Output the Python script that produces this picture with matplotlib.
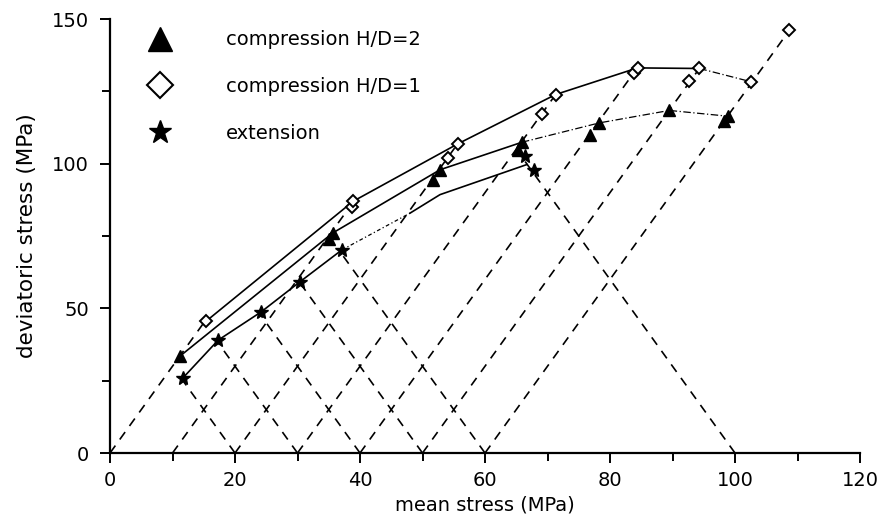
import numpy as np
import matplotlib.pyplot as plt
from matplotlib.lines import Line2D

# stress paths: start on the p axis, deviatoric stress where the path stops
comp_start = [0, 10, 20, 30, 40, 50, 60]
comp_qend = [46, 87, 107, 124, 133, 133, 146]
ext_start = [20, 30, 40, 50, 60, 100]
ext_qend = [26, 39, 49, 59, 70, 103]

# compression H/D=2
tri_p = [11.2, 35.0, 35.6, 51.7, 52.8, 65.3, 65.9, 76.8, 78.3, 89.5, 98.3, 98.9]
tri_q = [33.5, 74.0, 76.0, 94.5, 97.9, 104.8, 107.4, 110.0, 114.1, 118.4, 114.7, 116.4]
# compression H/D=1
dia_p = [15.4, 38.7, 38.9, 54.1, 55.6, 69.1, 71.3, 83.8, 84.4, 92.7, 94.3, 102.6, 108.7]
dia_q = [45.6, 85.0, 87.0, 102.0, 106.8, 117.2, 123.9, 131.4, 133.1, 128.5, 132.9, 128.3, 146.1]
# extension
star_p = [11.6, 17.3, 24.2, 30.4, 37.1, 66.4, 67.8]
star_q = [25.8, 39.0, 48.8, 59.2, 70.2, 102.5, 97.9]

# envelopes (solid part, then dash-dot part)
tri_env_p = [11.2, 35.6, 52.8, 65.9]
tri_env_q = [33.5, 76.0, 97.9, 107.4]
tri_env2_p = [65.9, 78.3, 89.5, 98.9]
tri_env2_q = [107.4, 114.1, 118.4, 116.4]
dia_env_p = [15.4, 38.9, 55.6, 71.3, 84.4, 94.3]
dia_env_q = [45.6, 87.0, 106.8, 123.9, 133.1, 132.9]
dia_env2_p = [94.3, 102.6]
dia_env2_q = [132.9, 128.3]
ext_env_p = [11.6, 17.3, 24.2, 30.4, 37.1]
ext_env_q = [25.8, 39.0, 48.8, 59.2, 70.2]
ext_env2_p = [37.1, 48.0]
ext_env2_q = [70.2, 82.9]
ext_env3_p = [48.0, 52.8, 66.7]
ext_env3_q = [82.9, 89.3, 99.7]

plt.rcParams['font.family'] = ['DejaVu Sans']
fig = plt.figure(figsize=(8.78, 5.25), dpi=100)
ax = fig.add_axes([0.1253, 0.1371, 0.8542, 0.8267])

dash = dict(color='black', lw=1.2, dashes=(5.5, 4.5))
for p0, qe in zip(comp_start, comp_qend):
    q = np.array([0, qe])
    ax.plot(p0 + q / 3, q, **dash)
for p0, qe in zip(ext_start, ext_qend):
    q = np.array([0, qe])
    ax.plot(p0 - q / 3, q, **dash)

ax.plot(tri_env_p, tri_env_q, color='black', lw=1.2)
ax.plot(tri_env2_p, tri_env2_q, color='black', lw=0.9, ls=(0, (6, 2, 1, 2)))
ax.plot(dia_env_p, dia_env_q, color='black', lw=1.2)
ax.plot(dia_env2_p, dia_env2_q, color='black', lw=0.9, ls=(0, (6, 2, 1, 2)))
ax.plot(ext_env_p, ext_env_q, color='black', lw=1.2)
ax.plot(ext_env2_p, ext_env2_q, color='black', lw=0.9, ls=(0, (3, 2, 1, 2)))
ax.plot(ext_env3_p, ext_env3_q, color='black', lw=1.2)

ax.plot(tri_p, tri_q, ls='none', marker='^', ms=8.5, color='black')
ax.plot(dia_p, dia_q, ls='none', marker='D', ms=6.5, mfc='white', mec='black', mew=1.4)
ax.plot(star_p, star_q, ls='none', marker='*', ms=10.5, color='black')

handles = [
    Line2D([], [], ls='none', marker='^', ms=17, color='black'),
    Line2D([], [], ls='none', marker='D', ms=13, mfc='white', mec='black', mew=1.5),
    Line2D([], [], ls='none', marker='*', ms=17, color='black'),
]
labels = ['compression H/D=2', 'compression H/D=1', 'extension']
ax.legend(handles, labels, loc='upper left', bbox_to_anchor=(0.031, 1.014),
          frameon=False, fontsize=14, handlelength=1.0, handletextpad=2.85,
          labelspacing=1.43)

ax.set_xlim(0, 120)
ax.set_ylim(0, 150)
ax.set_xticks(np.arange(0, 121, 20))
ax.set_xticks(np.arange(10, 120, 20), minor=True)
ax.set_yticks([0, 50, 100, 150])
ax.set_yticks([25, 75, 125], minor=True)
ax.spines['top'].set_visible(False)
ax.spines['right'].set_visible(False)
ax.spines['left'].set_linewidth(1.6)
ax.spines['bottom'].set_linewidth(1.6)
ax.tick_params(which='major', direction='out', length=7, width=1.4, labelsize=14)
ax.tick_params(which='minor', direction='out', length=6, width=1.4)
ax.tick_params(axis='x', which='major', pad=6)
ax.tick_params(axis='y', which='major', pad=8)
ax.set_xlabel('mean stress (MPa)', fontsize=14, labelpad=4)
ax.set_ylabel('deviatoric stress (MPa)', fontsize=15.5, labelpad=11)

fig.savefig('out.png', dpi=100)
